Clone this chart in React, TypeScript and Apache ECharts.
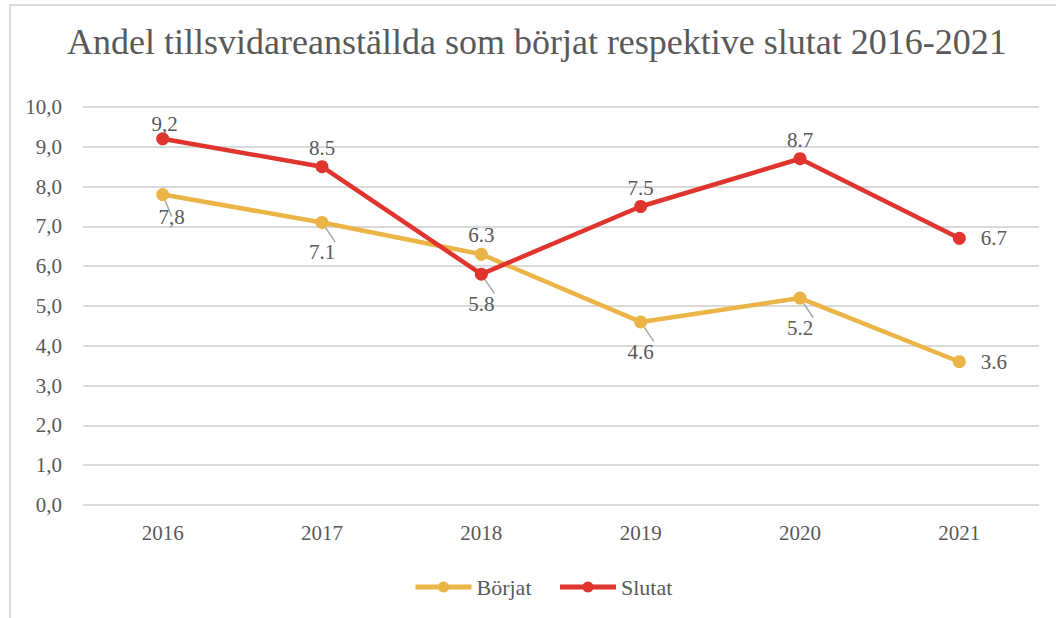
import React, { useEffect, useRef } from "react";
import * as echarts from "echarts";

const title = "Andel tillsvidareanställda som börjat respektive slutat 2016-2021";
const years = ["2016", "2017", "2018", "2019", "2020", "2021"];
const borjat = [7.8, 7.1, 6.3, 4.6, 5.2, 3.6];
const slutat = [9.2, 8.5, 5.8, 7.5, 8.7, 6.7];
const borjatLabels = ["7,8", "7.1", "6.3", "4.6", "5.2", "3.6"];
const slutatLabels = ["9,2", "8.5", "5.8", "7.5", "8.7", "6.7"];
const borjatPos = ["bottom", "bottom", "top", "bottom", "bottom", "right"];
const slutatPos = ["top", "top", "bottom", "top", "top", "right"];

const FONT = "Liberation Serif";
const TEXT = "#595959";
const YELLOW = "#EBB446";
const RED = "#E0352E";

function buildData(
  values: number[],
  labels: string[],
  pos: string[],
  offsets: Record<number, number[]>
) {
  return values.map((v, i) => {
    const p = pos[i];
    const label: any = {
      show: true,
      position: p,
      formatter: labels[i],
      distance: p === "right" ? 15 : p === "bottom" ? 13 : 2,
      color: TEXT,
      fontFamily: FONT,
      fontSize: 21,
    };
    if (offsets[i]) label.offset = offsets[i];
    return {
      value: v,
      label,
      labelLine: { show: p !== "right" },
    };
  });
}

export default function App() {
  const ref = useRef<HTMLDivElement>(null);
  useEffect(() => {
    if (!ref.current) return;
    const chart = echarts.init(ref.current, undefined, { renderer: "svg" });
    chart.setOption({
      animation: false,
      backgroundColor: "#ffffff",
      textStyle: { fontFamily: FONT, color: TEXT },
      title: {
        text: title,
        left: 62,
        top: 19,
        textStyle: { color: TEXT, fontFamily: FONT, fontSize: 36, fontWeight: "normal" },
      },
      graphic: [
        {
          type: "rect",
          shape: { x: 10, y: 5, width: 1200, height: 800 },
          style: { fill: "none", stroke: "#d9d9d9", lineWidth: 2 },
          silent: true,
        },
      ],
      legend: {
        bottom: 15,
        left: 408,
        itemWidth: 56,
        itemHeight: 14,
        itemGap: 26,
        lineStyle: { width: 5 },
        textStyle: { color: TEXT, fontFamily: FONT, fontSize: 22 },
        data: ["Börjat", "Slutat"],
      },
      grid: { left: 83, right: 17, top: 107, bottom: 113, containLabel: false },
      xAxis: {
        type: "category",
        data: years,
        boundaryGap: true,
        axisLine: { show: false },
        axisTick: { show: false },
        axisLabel: { color: TEXT, fontFamily: FONT, fontSize: 21, margin: 17 },
      },
      yAxis: {
        type: "value",
        min: 0,
        max: 10,
        interval: 1,
        axisLine: { show: false },
        axisTick: { show: false },
        splitLine: { lineStyle: { color: "#d9d9d9", width: 2 } },
        axisLabel: {
          color: TEXT,
          fontFamily: FONT,
          fontSize: 21,
          margin: 21,
          formatter: (v: number) => v.toFixed(1).replace(".", ","),
        },
      },
      series: [
        {
          name: "Börjat",
          type: "line",
          data: buildData(borjat, borjatLabels, borjatPos, { 0: [9, -8] }),
          symbol: "circle",
          symbolSize: 13,
          itemStyle: { color: YELLOW },
          lineStyle: { color: YELLOW, width: 4.5 },
          labelLine: { show: true, lineStyle: { color: "#a6a6a6", width: 1.5 } },
          z: 2,
        },
        {
          name: "Slutat",
          type: "line",
          data: buildData(slutat, slutatLabels, slutatPos, { 0: [2, 4] }),
          symbol: "circle",
          symbolSize: 13,
          itemStyle: { color: RED },
          lineStyle: { color: RED, width: 4.5 },
          labelLine: { show: true, lineStyle: { color: "#a6a6a6", width: 1.5 } },
          z: 3,
        },
      ],
    });
    return () => chart.dispose();
  }, []);
  return (
    <div
      ref={ref}
      style={{ position: "fixed", left: 0, top: 0, width: 1056, height: 618 }}
    />
  );
}
